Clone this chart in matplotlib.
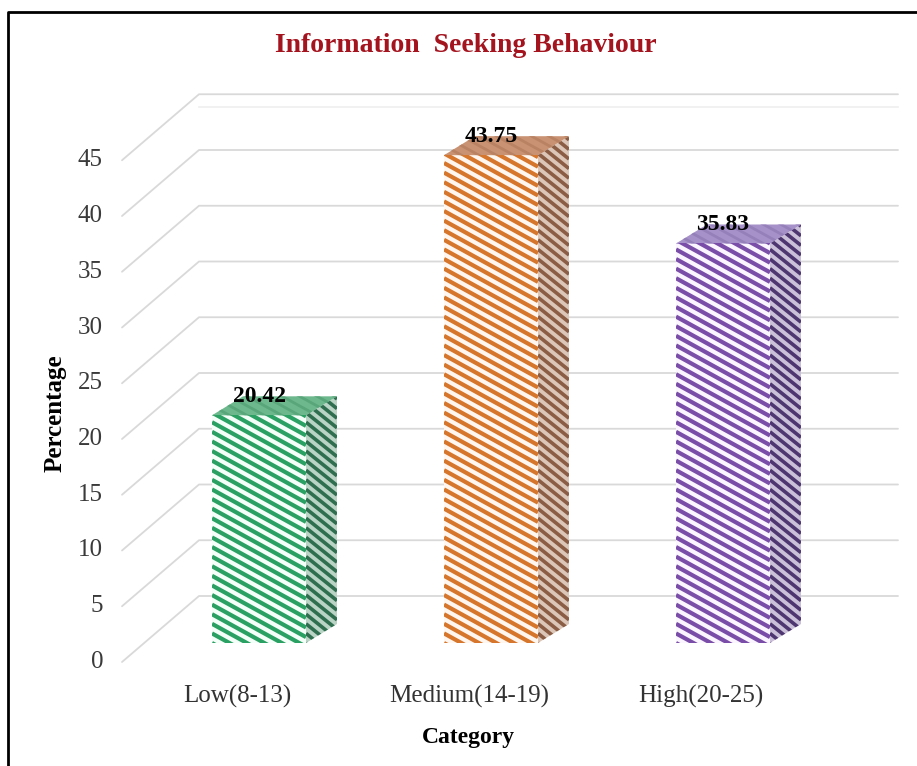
import numpy as np
import matplotlib
matplotlib.use("Agg")
import matplotlib.pyplot as plt
from matplotlib.patches import Polygon
from matplotlib.collections import LineCollection
from matplotlib.lines import Line2D

# ---- data -------------------------------------------------------------
categories = ["Low(8-13)", "Medium(14-19)", "High(20-25)"]
percentages = [20.42, 43.75, 35.83]
value_labels = ["20.42", "43.75", "35.83"]
y_ticks = [0, 5, 10, 15, 20, 25, 30, 35, 40, 45]
title = "Information  Seeking Behaviour"
x_title = "Category"
y_title = "Percentage"

# ---- styles -----------------------------------------------------------
stripe_front = ["#2aa163", "#d6762c", "#7a4ea8"]
bg_front = ["#f3fff8", "#fff7ef", "#fbf5ff"]
stripe_side = ["#2f6f50", "#8a5d44", "#4e3670"]
bg_side = ["#b9d3c4", "#dcc6b8", "#cbc0d9"]
top_fill = ["#6db88c", "#c99373", "#a691c9"]
top_stripe = ["#5aa67b", "#b98262", "#9580ba"]

FONT = "Liberation Serif"
W, H = 917, 766

fig = plt.figure(figsize=(W / 100, H / 100), dpi=100)
ax = fig.add_axes([0, 0, 1, 1])

# scale: pixels per category step / per percentage point
PX_X, PX_Y = 232.0, 11.15
X0, Y0 = 237.0, 662.0  # first category / zero on the front plane
ax.set_xlim(-X0 / PX_X, (W - X0) / PX_X)
ax.set_ylim(-(H - Y0) / PX_Y, Y0 / PX_Y)
ax.axis("off")


def dx(p):
    return p / PX_X


def dy(p):
    return p / PX_Y


# oblique depth of the back wall and of the bars
wall_dx, wall_dy = dx(77), dy(66)
front_dx, front_dy = dx(22), dy(19)
side_dx, side_dy = dx(31), dy(19)
bar_w = dx(94)

grid_x0 = dx(122 - X0)
grid_x1 = dx(898 - X0)

# ---- walls / gridlines -----------------------------------------------
for v in y_ticks:
    ax.plot([grid_x0, grid_x0 + wall_dx, grid_x1],
            [v, v + wall_dy, v + wall_dy],
            color="#d9d9d9", lw=1.3, zorder=1, solid_capstyle="round")
    ax.text(dx(103 - X0), v, str(v), ha="right", va="center",
            fontsize=18, family=FONT, color="#3a3a3a")
# faint upper edge of the back wall
ax.plot([grid_x0 + wall_dx, grid_x1],
        [y_ticks[-1] + wall_dy + dy(-13)] * 2,
        color="#efefef", lw=1.2, zorder=1)


def add_striped(poly, fill, stripe, slope, period, lw):
    patch = Polygon(poly, closed=True, facecolor=fill, edgecolor="none",
                    zorder=3)
    ax.add_patch(patch)
    px = np.array(poly)[:, 0] * PX_X
    py = np.array(poly)[:, 1] * PX_Y
    xmin, xmax, ymin, ymax = px.min(), px.max(), py.min(), py.max()
    b = np.arange(ymin + slope * xmin - period, ymax + slope * xmax + period,
                  period)
    segs = [[(xmin / PX_X, (bi - slope * xmin) / PX_Y),
             (xmax / PX_X, (bi - slope * xmax) / PX_Y)] for bi in b]
    lc = LineCollection(segs, colors=stripe, linewidths=lw, zorder=4)
    ax.add_collection(lc)
    lc.set_clip_path(patch)


# ---- bars ------------------------------------------------------------
for i, (cat, val, lab) in enumerate(zip(categories, percentages,
                                        value_labels)):
    xl = i - bar_w / 2 + front_dx
    xr = i + bar_w / 2 + front_dx
    y0 = front_dy
    y1 = val + front_dy
    front = [(xl, y0), (xr, y0), (xr, y1), (xl, y1)]
    side = [(xr, y0), (xr + side_dx, y0 + side_dy),
            (xr + side_dx, y1 + side_dy), (xr, y1)]
    top = [(xl, y1), (xr, y1), (xr + side_dx, y1 + side_dy),
           (xl + side_dx, y1 + side_dy)]
    add_striped(front, bg_front[i], stripe_front[i], 0.55, 9.6, 3.0)
    add_striped(side, bg_side[i], stripe_side[i], 0.8, 9.6, 2.6)
    add_striped(top, top_fill[i], top_stripe[i], 0.55, 9.6, 2.0)
    ax.text(i + front_dx, y1 + dy(13), lab, ha="center", va="baseline",
            fontsize=17, fontweight="bold", family=FONT, color="black",
            zorder=6)
    ax.text(i, dy(Y0 - 696), cat, ha="center", va="center",
            fontsize=18, family=FONT, color="#333333")

# ---- titles ----------------------------------------------------------
ax.text(dx(468 - X0), dy(Y0 - 738), x_title, ha="center", va="center",
        fontsize=17, fontweight="bold", family=FONT, color="black")
ax.text(dx(55 - X0), dy(Y0 - 413), y_title, ha="center", va="center",
        rotation=90, fontsize=18, fontweight="bold", family=FONT,
        color="black")
ax.text(dx(466 - X0), dy(Y0 - 45), title, ha="center", va="center",
        fontsize=20, fontweight="bold", family=FONT, color="#a3141f")

# ---- frame (left and top edges) ---------------------------------------
fig.add_artist(Line2D([7.5 / W, 7.5 / W, 1.0],
                      [0.0, 1 - 12 / H, 1 - 12 / H],
                      transform=fig.transFigure, color="black", lw=2.0))

fig.savefig("out.png", dpi=100)
